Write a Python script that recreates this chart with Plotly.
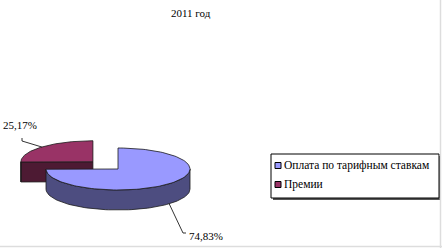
import numpy as np
import plotly.graph_objects as go

# ---- data ----
title_text = "2011 год"
categories = ["Оплата по тарифным ставкам", "Премии"]
values = [74.83, 25.17]
value_labels = ["74,83%", "25,17%"]

# ---- style ----
top_colors = ["#9999FF", "#993366"]
side_colors = ["#4D4D80", "#4D1A33"]
explode = [0.0, 0.49]
CX, CY, RX, RY, DEPTH = 118, 169, 72, 21, 20
W, H = 442, 248
FONT = "'Liberation Serif', 'Times New Roman', serif"

fig = go.Figure()

total = sum(values)
angles = []
a = 90.0
for v in values:
    span = 360.0 * v / total
    angles.append((a - span, a))  # (low, high) in math degrees, clockwise from 12 o'clock
    a -= span


def pt(theta, ox, oy, dy=0.0):
    t = np.radians(theta)
    return CX + ox + RX * np.cos(t), CY + oy - RY * np.sin(t) + dy


def add_poly(xs, ys, color):
    fig.add_trace(go.Scatter(x=list(xs) + [xs[0]], y=list(ys) + [ys[0]], mode="lines",
                             fill="toself", fillcolor=color,
                             line=dict(color="#1a1a1a", width=0.8),
                             hoverinfo="skip", showlegend=False))


geom = []
for i, (lo, hi) in enumerate(angles):
    mid = np.radians((lo + hi) / 2)
    ox = explode[i] * RX * np.cos(mid)
    oy = -explode[i] * RY * np.sin(mid)
    geom.append((lo, hi, ox, oy))

# draw back (exploded) slice first
order = sorted(range(len(values)), key=lambda i: geom[i][3])
for i in order:
    lo, hi, ox, oy = geom[i]
    c0x, c0y = CX + ox, CY + oy
    # radial faces
    for edge, normal in ((hi, hi + 90), (lo, lo - 90)):
        if np.sin(np.radians(normal)) < -1e-6:
            ex, ey = pt(edge, ox, oy)
            add_poly([c0x, ex, ex, c0x], [c0y, ey, ey + DEPTH, c0y + DEPTH], side_colors[i])
    # outer wall (front half: angles in (-180, 0))
    a1, a2 = max(lo, -180.0), min(hi, 0.0)
    if a2 > a1:
        th = np.linspace(a1, a2, 80)
        top = [pt(t, ox, oy) for t in th]
        xs = [p[0] for p in top] + [p[0] for p in top[::-1]]
        ys = [p[1] for p in top] + [p[1] + DEPTH for p in top[::-1]]
        add_poly(xs, ys, side_colors[i])
    # top face
    th = np.linspace(lo, hi, 120)
    arc = [pt(t, ox, oy) for t in th]
    add_poly([c0x] + [p[0] for p in arc], [c0y] + [p[1] for p in arc], top_colors[i])

# data labels with leader lines
label_pos = [(206, 236, 186), (20, 125, 22)]
for i in range(len(values)):
    lo, hi, ox, oy = geom[i]
    mx, my = pt((lo + hi) / 2, ox, oy)
    if np.sin(np.radians((lo + hi) / 2)) < 0:
        my += DEPTH
    lx, ly, hx = label_pos[i]
    if ly > my:
        xs, ys = [mx, hx - 3, hx], [my, ly - 3, ly - 3]
    else:
        xs, ys = [mx, hx, hx], [my, ly + 16, ly + 13]
    fig.add_trace(go.Scatter(x=xs, y=ys, mode="lines", line=dict(color="#000", width=0.8),
                             hoverinfo="skip", showlegend=False))
    fig.add_annotation(x=lx, y=ly, text=value_labels[i], showarrow=False,
                       font=dict(family=FONT, size=11, color="#000"), xanchor="center", yanchor="middle")

# title
fig.add_annotation(x=191, y=13, text=title_text, showarrow=False,
                   font=dict(family=FONT, size=11, color="#000"), xanchor="center", yanchor="middle")

# legend (manual)
shapes = [
    dict(type="rect", x0=273, y0=156, x1=441, y1=200, fillcolor="#555", line=dict(width=0), layer="below"),
    dict(type="rect", x0=271, y0=154, x1=439, y1=198, fillcolor="#fff", line=dict(color="#000", width=1), layer="below"),
    dict(type="line", x0=0, y0=246.5, x1=442, y1=246.5, line=dict(color="#DDDDDD", width=1.5)),
    dict(type="line", x0=440.5, y0=0, x1=440.5, y1=248, line=dict(color="#DDDDDD", width=1.5)),
]
leg_y = [165.5, 184.5]
for i, name in enumerate(categories):
    shapes.append(dict(type="rect", x0=275, y0=leg_y[i] - 3, x1=281, y1=leg_y[i] + 3,
                       fillcolor=top_colors[i], line=dict(color="#000", width=1)))
    fig.add_annotation(x=282, y=leg_y[i], text=name, showarrow=False,
                       font=dict(family=FONT, size=11.5, color="#000"), xanchor="left", yanchor="middle")

fig.update_layout(
    width=W, height=H, margin=dict(l=0, r=0, t=0, b=0),
    paper_bgcolor="#fff", plot_bgcolor="#fff", showlegend=False, shapes=shapes,
    xaxis=dict(range=[0, W], visible=False, fixedrange=True),
    yaxis=dict(range=[H, 0], visible=False, fixedrange=True),
)
fig.write_html("out.html")
